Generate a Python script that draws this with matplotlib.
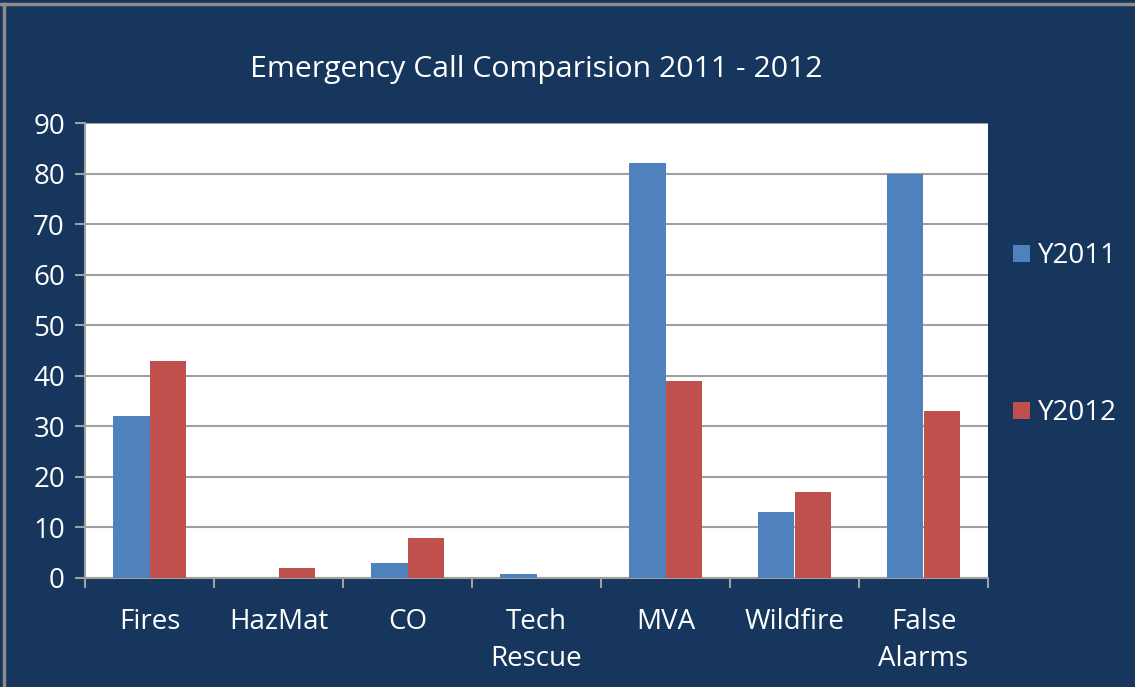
import matplotlib
matplotlib.use("Agg")
import matplotlib.pyplot as plt
import numpy as np

categories = ["Fires", "HazMat", "CO", "Tech\nRescue", "MVA", "Wildfire", "False\nAlarms"]
y2011 = [32, 0, 3, 0.7, 82, 13, 80]
y2012 = [43, 2, 8, 0, 39, 17, 33]
yticks = [0, 10, 20, 30, 40, 50, 60, 70, 80, 90]

navy = "#17365d"
blue = "#4f81bd"
red = "#c0504d"
grey = "#a0a0a0"

plt.rcParams['font.family'] = ['Open Sans', 'DejaVu Sans']

W, H = 1135, 687
fig = plt.figure(figsize=(W / 100, H / 100), dpi=100, facecolor=navy)

# outer frame lines
fig.add_artist(plt.Line2D([0, 1], [1 - 4 / H, 1 - 4 / H], color="#8c8c8c", lw=2.5, transform=fig.transFigure))
fig.add_artist(plt.Line2D([4 / W, 4 / W], [0, 1 - 4 / H], color="#8c8c8c", lw=2.5, transform=fig.transFigure))

left, right, top, bottom = 85, 988, 123, 578
ax = fig.add_axes([left / W, 1 - bottom / H, (right - left) / W, (bottom - top) / H])
ax.set_facecolor("white")

x = np.arange(len(categories))
w = 1 / 3.5
ax.bar(x - w / 2, y2011, width=w, color=blue, label="Y2011", zorder=3)
ax.bar(x + w / 2, y2012, width=w, color=red, label="Y2012", zorder=3)

fs = 20
ax.set_xlim(-0.5, len(categories) - 0.5)
ax.set_ylim(0, 90)
ax.set_yticks(yticks)
ax.set_yticklabels([str(v) for v in yticks], color="white", fontsize=fs)
ax.yaxis.grid(True, color=grey, lw=1.5, zorder=0)
ax.set_axisbelow(True)

ax.set_xticks(np.arange(-0.5, len(categories), 1))
ax.set_xticklabels([])
ax.set_xticks(x, minor=True)
ax.set_xticklabels(categories, minor=True, color="white", fontsize=fs, linespacing=1.45, va="top")
ax.tick_params(axis="x", which="minor", length=0, pad=21.5)
ax.tick_params(axis="x", which="major", length=7.2, color=grey, width=1.5, direction="out")
ax.tick_params(axis="y", length=7.2, color=grey, width=1.5, direction="out", pad=7.2)

for s in ["top", "right"]:
    ax.spines[s].set_visible(False)
ax.spines["left"].set_color(grey)
ax.spines["bottom"].set_color(grey)
ax.spines["left"].set_linewidth(1.5)
ax.spines["bottom"].set_linewidth(1.5)

fig.text(536 / W, 1 - 70 / H, "Emergency Call Comparision 2011 - 2012", color="white",
         fontsize=21.7, ha="center", va="center")

leg = ax.legend(loc="upper left", bbox_to_anchor=(1.0, 0.793), frameon=False, fontsize=fs,
                labelspacing=4.65, handlelength=0.6, handleheight=0.6, handletextpad=0.3)
for t in leg.get_texts():
    t.set_color("white")

fig.savefig("out.png", dpi=100, facecolor=navy)
